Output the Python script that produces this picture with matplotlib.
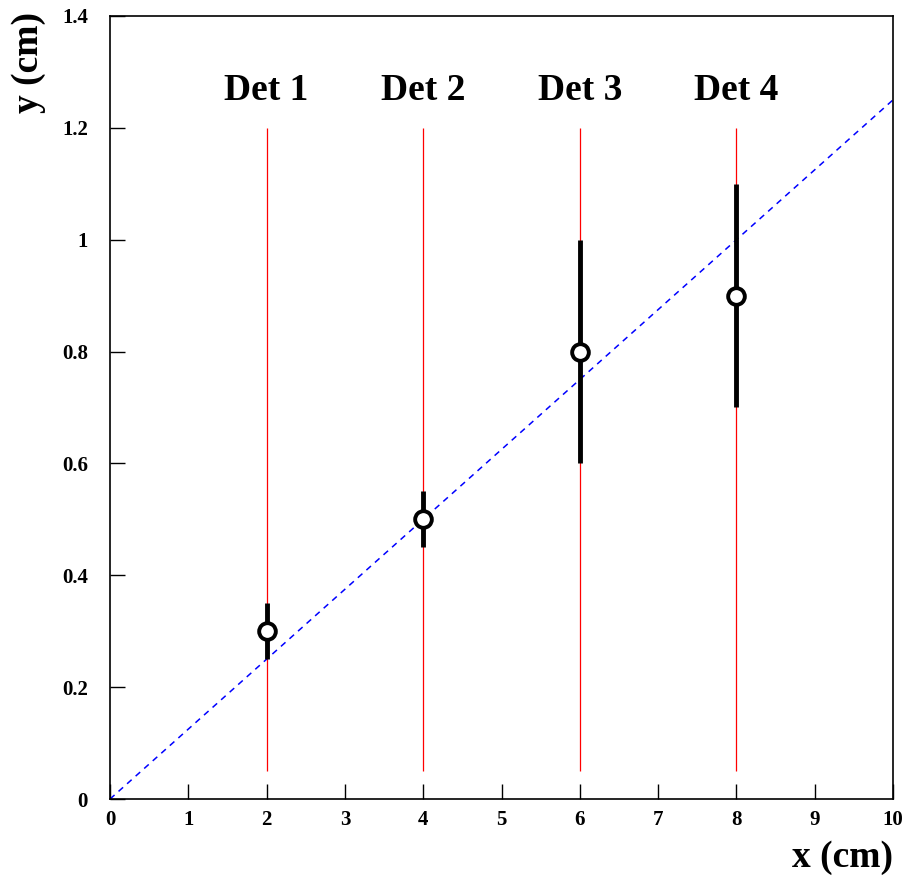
import matplotlib
matplotlib.use("Agg")
import matplotlib.pyplot as plt

det_x = [2, 4, 6, 8]
det_labels = ["Det 1", "Det 2", "Det 3", "Det 4"]
det_ymin = 0.05
det_ymax = 1.2
meas_y = [0.3, 0.5, 0.8, 0.9]
meas_err = [0.05, 0.05, 0.2, 0.2]
fit_x = [0, 10]
fit_y = [0, 1.25]
label_y = 1.25

plt.rcParams['font.family'] = ['Liberation Serif', 'DejaVu Serif']
plt.rcParams['font.weight'] = 'bold'

fig = plt.figure(figsize=(9.06, 8.77), dpi=100)
ax = fig.add_axes([0.1214, 0.0889, 0.8643, 0.8929])

for x in det_x:
    ax.vlines(x, det_ymin, det_ymax, color='red', lw=0.9)
ax.plot(fit_x, fit_y, color='blue', ls=(0, (4, 3.5)), lw=1.1)
ax.errorbar(det_x, meas_y, yerr=meas_err, fmt='o', mfc='white', mec='black',
            mew=2.8, ms=12, ecolor='black', elinewidth=3.5, capsize=0, zorder=5)
for x, lab in zip(det_x, det_labels):
    ax.text(x, label_y, lab, ha='center', va='baseline', fontsize=27, fontweight='bold')

ax.set_xlim(0, 10)
ax.set_ylim(0, 1.4)
ax.set_xticks(range(0, 11))
ax.set_yticks([0, 0.2, 0.4, 0.6, 0.8, 1.0, 1.2, 1.4])
ax.set_yticklabels(['0', '0.2', '0.4', '0.6', '0.8', '1', '1.2', '1.4'])
ax.tick_params(direction='in', length=11, width=1, labelsize=15, top=False, right=False)
ax.tick_params(axis='x', pad=8)
ax.tick_params(axis='y', pad=16)
for lab in ax.get_xticklabels() + ax.get_yticklabels():
    lab.set_fontweight('bold')
for s in ax.spines.values():
    s.set_linewidth(1.2)

fig.text(0.986, 0.002, 'x (cm)', ha='right', va='bottom', fontsize=27, fontweight='bold')
fig.text(0.012, 0.986, 'y (cm)', ha='left', va='top', rotation=90, fontsize=27, fontweight='bold')

fig.savefig('out.png', dpi=100)
